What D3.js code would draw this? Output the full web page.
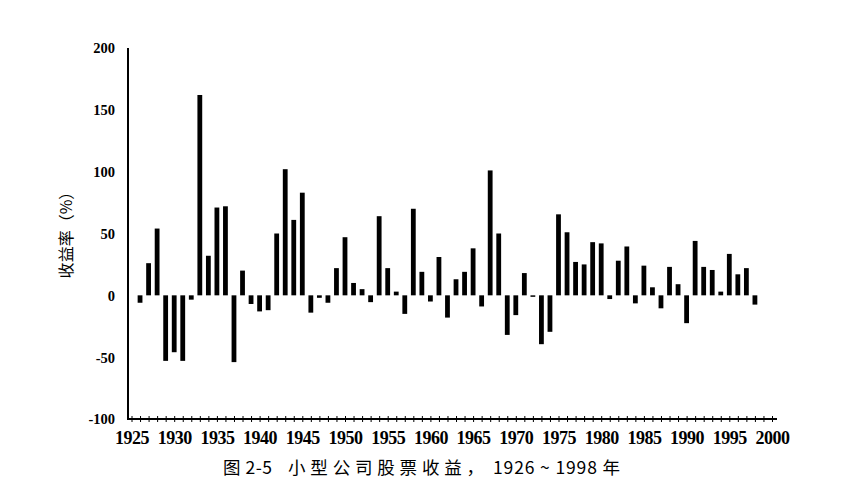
<!DOCTYPE html>
<html>
<head>
<meta charset="utf-8">
<script src="https://cdn.jsdelivr.net/npm/d3@7"></script>
<style>
  body { margin: 0; background: #fff; }
  svg { display: block; }
</style>
</head>
<body>
<div id="canvas"></div>
<script>
// 年份与收益率(%)
const years = [1926, 1927, 1928, 1929, 1930, 1931, 1932, 1933, 1934, 1935,
  1936, 1937, 1938, 1939, 1940, 1941, 1942, 1943, 1944, 1945,
  1946, 1947, 1948, 1949, 1950, 1951, 1952, 1953, 1954, 1955,
  1956, 1957, 1958, 1959, 1960, 1961, 1962, 1963, 1964, 1965,
  1966, 1967, 1968, 1969, 1970, 1971, 1972, 1973, 1974, 1975,
  1976, 1977, 1978, 1979, 1980, 1981, 1982, 1983, 1984, 1985,
  1986, 1987, 1988, 1989, 1990, 1991, 1992, 1993, 1994, 1995,
  1996, 1997, 1998];
const returns = [-6, 26, 54, -53, -46, -53, -3.5, 162, 32, 71,
  72, -54, 20, -7, -13, -12, 50, 102, 61, 83,
  -14, -2, -6, 22, 47, 10, 5, -5.5, 64, 22,
  3, -15, 70, 19, -5, 31, -18, 13, 19, 38,
  -9, 101, 50, -32, -16, 18, -1, -39.5, -29.5, 65.5,
  51, 27, 25, 43, 42, -3, 28, 39.5, -6.5, 24,
  6.5, -10.5, 23, 9, -22.5, 44, 23, 20.5, 3, 33.5,
  17, 22, -7.5];
const yTicks = [-100, -50, 0, 50, 100, 150, 200];
const xTickLabels = [1925, 1930, 1935, 1940, 1945, 1950, 1955, 1960, 1965,
  1970, 1975, 1980, 1985, 1990, 1995, 2000];

const data = years.map((d, i) => ({ year: d, value: returns[i] }));

const width = 860;
const height = 495;

const svg = d3.select("#canvas").append("svg")
  .attr("width", width)
  .attr("height", height);

const x = d3.scaleLinear().domain([1925, 2000]).range([131.5, 772]);
const y = d3.scaleLinear().domain([-100, 200]).range([419, 48]);

const barW = 4.8;

// 柱子
svg.append("g").selectAll("rect")
  .data(data)
  .enter()
  .append("rect")
  .attr("x", d => x(d.year) - barW / 2)
  .attr("y", d => y(Math.max(0, d.value)))
  .attr("width", barW)
  .attr("height", d => Math.max(1.5, Math.abs(y(d.value) - y(0))))
  .style("fill", "#000");

// y 轴
const yAxis = svg.append("g")
  .attr("transform", "translate(128,0)")
  .call(d3.axisLeft(y).tickValues(yTicks).tickSize(0).tickPadding(13)
    .tickFormat(d => String(d)));
yAxis.select(".domain").remove();
yAxis.selectAll("text")
  .style("font-family", "'Liberation Serif', serif")
  .style("font-weight", "bold")
  .style("font-size", "14.5px")
  .attr("dy", "0.34em");
svg.append("line")
  .attr("x1", 128).attr("x2", 128)
  .attr("y1", y(200)).attr("y2", y(-100) + 1)
  .style("stroke", "#000").style("stroke-width", 2);

// x 轴：每年一个小十字刻度
const xMinor = svg.append("g")
  .attr("transform", "translate(0,419)")
  .call(d3.axisBottom(x).tickValues(d3.range(1925, 2001)).tickSize(3).tickFormat(""));
xMinor.select(".domain").remove();
xMinor.selectAll(".tick line").attr("y1", -3).style("stroke-width", 1);

const xAxis = svg.append("g")
  .attr("transform", "translate(0,419)")
  .call(d3.axisBottom(x).tickValues(xTickLabels).tickSize(0).tickPadding(12)
    .tickFormat(d3.format("d")));
xAxis.select(".domain").remove();
xAxis.selectAll("text")
  .style("font-family", "'Liberation Serif', serif")
  .style("font-weight", "bold")
  .style("font-size", "18px")
  .style("letter-spacing", "-0.5px")
  .attr("dy", "0.71em");

svg.append("line")
  .attr("x1", 127).attr("x2", 777)
  .attr("y1", 419).attr("y2", 419)
  .style("stroke", "#000").style("stroke-width", 2.2);

// y 轴标题
svg.append("text")
  .attr("transform", "translate(72,231) rotate(-90)")
  .attr("text-anchor", "middle")
  .style("font-family", "'Noto Sans CJK SC', sans-serif")
  .style("font-size", "16px")
  .text("收益率（%）");

// 图题
const title = svg.append("g")
  .style("font-family", "'Noto Sans CJK SC', sans-serif")
  .style("font-size", "17.5px");
title.append("text")
  .attr("x", 223).attr("y", 474)
  .attr("textLength", 49).attr("lengthAdjust", "spacing")
  .text("图 2-5");
title.append("text")
  .attr("x", 288).attr("y", 474)
  .attr("textLength", 196).attr("lengthAdjust", "spacing")
  .text("小型公司股票收益，");
title.append("text")
  .attr("x", 493).attr("y", 474)
  .attr("textLength", 127).attr("lengthAdjust", "spacing")
  .text("1926 ~ 1998 年");
</script>
</body>
</html>
